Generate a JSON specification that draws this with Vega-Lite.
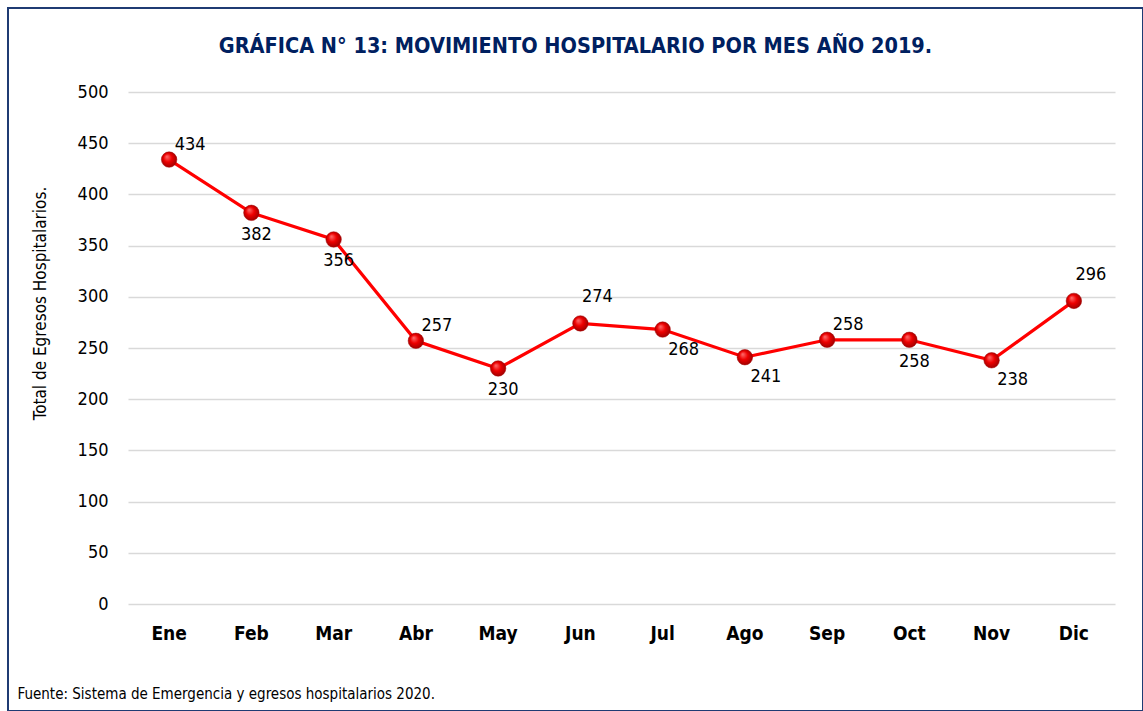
{
  "$schema": "https://vega.github.io/schema/vega-lite/v6.json",
  "width": 1135,
  "height": 703,
  "autosize": {"type": "none"},
  "padding": {"left": 8, "top": 8, "right": 0, "bottom": 0},
  "background": "white",
  "config": {
    "view": {"stroke": "#1f3b73", "strokeWidth": 2},
    "font": "Liberation Sans Narrow, DejaVu Sans Condensed, Liberation Sans, sans-serif"
  },
  "title": {
    "text": "GRÁFICA N° 13: MOVIMIENTO HOSPITALARIO POR MES AÑO 2019.",
    "anchor": "middle",
    "orient": "top",
    "offset": 0,
    "baseline": "middle",
    "dy": 60,
    "fontSize": 21.5,
    "fontWeight": "bold",
    "color": "#002060"
  },
  "data": {
    "values": [
      {"mes": "Ene", "egresos": 434},
      {"mes": "Feb", "egresos": 382},
      {"mes": "Mar", "egresos": 356},
      {"mes": "Abr", "egresos": 257},
      {"mes": "May", "egresos": 230},
      {"mes": "Jun", "egresos": 274},
      {"mes": "Jul", "egresos": 268},
      {"mes": "Ago", "egresos": 241},
      {"mes": "Sep", "egresos": 258},
      {"mes": "Oct", "egresos": 258},
      {"mes": "Nov", "egresos": 238},
      {"mes": "Dic", "egresos": 296}
    ]
  },
  "encoding": {
    "x": {
      "field": "mes",
      "type": "ordinal",
      "sort": null,
      "scale": {"type": "band", "range": [120, 1107], "paddingInner": 0, "paddingOuter": 0},
      "axis": {
        "title": "Fuente: Sistema de Emergencia y egresos hospitalarios 2020.",
        "offset": -107,
        "domain": false,
        "ticks": false,
        "grid": false,
        "labelAngle": 0,
        "labelPadding": 20,
        "labelFontSize": 19,
        "labelFontWeight": "bold",
        "labelColor": "#000000",
        "titleFontSize": 15,
        "titleFontWeight": "normal",
        "titleColor": "#000000",
        "titleX": 9,
        "titleY": 89,
        "titleAlign": "left",
        "titleBaseline": "middle"
      }
    },
    "y": {
      "field": "egresos",
      "type": "quantitative",
      "scale": {"domain": [0, 500], "range": [596, 84], "nice": false},
      "axis": {
        "title": "Total de Egresos Hospitalarios.",
        "offset": -112,
        "domain": false,
        "ticks": false,
        "tickCount": 10,
        "labelPadding": 12,
        "labelFontSize": 18,
        "labelColor": "#000000",
        "gridColor": "#d9d9d9",
        "gridWidth": 1.5,
        "titleFontSize": 17,
        "titleFontWeight": "normal",
        "titleColor": "#000000",
        "titleX": -80,
        "titleY": 295,
        "titleAngle": -90,
        "titleAlign": "center",
        "titleBaseline": "middle"
      }
    }
  },
  "layer": [
    {"mark": {"type": "line", "color": "#ff0000", "strokeWidth": 3.2}},
    {
      "mark": {
        "type": "point",
        "shape": "circle",
        "filled": true,
        "size": 240,
        "opacity": 1,
        "fill": {
          "gradient": "radial",
          "x1": 0.35, "y1": 0.3, "r1": 0,
          "x2": 0.5, "y2": 0.5, "r2": 0.6,
          "stops": [
            {"offset": 0, "color": "#ff7070"},
            {"offset": 0.45, "color": "#ee0000"},
            {"offset": 1, "color": "#8a0000"}
          ]
        },
        "stroke": "#a00000",
        "strokeWidth": 0.5
      }
    },
    {
      "transform": [{"filter": {"field": "mes", "oneOf": ["Ene", "Abr", "Sep"]}}],
      "mark": {"type": "text", "fontSize": 18, "color": "#000000", "align": "center", "baseline": "middle", "dx": 21, "dy": -15},
      "encoding": {"text": {"field": "egresos", "type": "quantitative"}}
    },
    {
      "transform": [{"filter": {"field": "mes", "oneOf": ["Jun", "Dic"]}}],
      "mark": {"type": "text", "fontSize": 18, "color": "#000000", "align": "center", "baseline": "middle", "dx": 17, "dy": -26},
      "encoding": {"text": {"field": "egresos", "type": "quantitative"}}
    },
    {
      "transform": [{"filter": {"field": "mes", "oneOf": ["Jul", "Ago", "Nov"]}}],
      "mark": {"type": "text", "fontSize": 18, "color": "#000000", "align": "center", "baseline": "middle", "dx": 21, "dy": 20},
      "encoding": {"text": {"field": "egresos", "type": "quantitative"}}
    },
    {
      "transform": [{"filter": {"field": "mes", "oneOf": ["Feb", "Mar", "May", "Oct"]}}],
      "mark": {"type": "text", "fontSize": 18, "color": "#000000", "align": "center", "baseline": "middle", "dx": 5, "dy": 22},
      "encoding": {"text": {"field": "egresos", "type": "quantitative"}}
    }
  ]
}
